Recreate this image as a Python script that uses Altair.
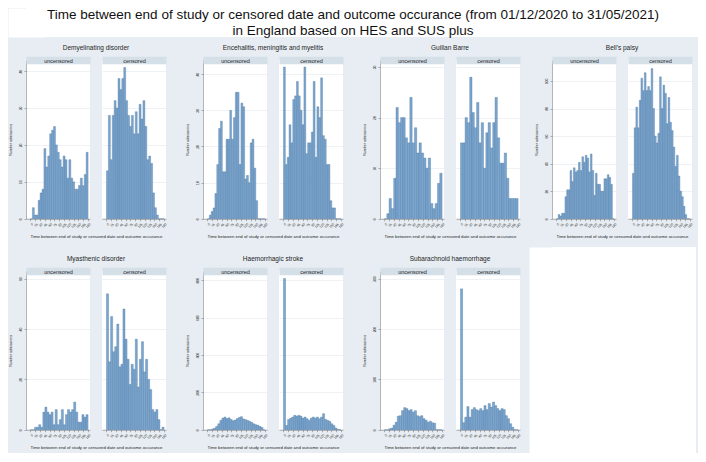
import altair as alt
import pandas as pd

# ---------------- data ----------------
TITLE_LINE1 = "Time between end of study or censored date and outcome occurance (from 01/12/2020 to 31/05/2021)"
TITLE_LINE2 = "in England based on HES and SUS plus"
X_TITLE = "Time between end of study or censored date and outcome occurance"
Y_TITLE = "Number admissions"
STATUSES = ["uncensored", "censored"]
X_TICKS = [0, 15, 30, 45, 60, 75, 90, 105, 120, 135, 150, 165, 180]
X_MAX = 180

DISEASES = [
    "Demyelinating disorder",
    "Encehalitis, meningitis and myelitis",
    "Guillan Barre",
    "Bell's palsy",
    "Myasthenic disorder",
    "Haemorrhagic stroke",
    "Subarachnoid haemorrhage",
]

demy_unc = [0, 3, 1, 1, 5, 7, 8, 19, 14, 17, 23, 24, 25, 20, 18, 16, 14, 17, 16, 11, 16, 11, 10, 8, 8, 9, 11, 9, 12, 18]
demy_cen = [13, 28, 16, 28, 32, 30, 38, 35, 38, 41, 32, 28, 25, 28, 23, 29, 23, 31, 27, 32, 25, 16, 17, 15, 7, 3, 1, 0, 0, 0]
ence_unc = [0, 1, 2, 3, 7, 15, 25, 27, 13, 13, 22, 22, 30, 22, 28, 35, 35, 15, 32, 31, 11, 12, 10, 21, 22, 14, 5, 0, 0, 0, 0]
ence_cen = [42, 15, 17, 26, 21, 33, 34, 38, 34, 30, 26, 42, 18, 21, 21, 24, 38, 17, 31, 28, 39, 23, 22, 15, 15, 5, 3, 3, 0, 0, 0]
guil_unc = [0, 1, 4, 2, 8, 22, 19, 20, 20, 16, 15, 24, 15, 18, 13, 15, 13, 12, 10, 12, 3, 2, 3, 7, 9]
guil_cen = [15, 15, 20, 19, 28, 21, 18, 23, 15, 19, 10, 17, 19, 14, 19, 24, 16, 11, 11, 13, 8, 4, 4, 4, 4]
bell_unc = [0, 3, 2, 4, 4, 16, 21, 21, 35, 27, 37, 34, 35, 41, 35, 45, 41, 46, 44, 34, 47, 35, 17, 33, 25, 25, 20, 20, 29, 29, 32, 30, 25, 0]
bell_cen = [33, 66, 81, 66, 86, 102, 93, 106, 93, 96, 93, 109, 80, 60, 55, 62, 103, 80, 97, 91, 69, 88, 70, 64, 52, 38, 46, 31, 20, 16, 9, 3, 0, 0]
myas_unc = [0, 0, 1, 1, 2, 1, 7, 9, 7, 6, 7, 2, 8, 2, 4, 8, 2, 6, 8, 7, 8, 11, 7, 3, 3, 6, 5, 6]
myas_cen = [54, 27, 45, 31, 33, 42, 25, 26, 48, 36, 28, 18, 26, 24, 36, 17, 28, 35, 23, 28, 20, 16, 8, 7, 8, 4, 0, 1]
haem_unc = [0, 0, 4, 9, 18, 32, 50, 62, 68, 60, 64, 55, 48, 52, 60, 66, 70, 58, 54, 50, 45, 40, 32, 27, 24, 18, 12, 0]
haem_cen = [810, 23, 55, 62, 68, 77, 73, 77, 73, 62, 68, 59, 50, 62, 68, 62, 68, 59, 68, 86, 55, 50, 45, 32, 23, 9, 2, 0]
suba_unc = [0, 0, 2, 3, 9, 15, 27, 28, 38, 44, 42, 38, 40, 35, 38, 28, 26, 28, 22, 19, 15, 17, 14, 13, 0, 0, 0]
suba_cen = [280, 14, 25, 46, 25, 40, 44, 40, 38, 42, 38, 48, 40, 52, 45, 55, 48, 42, 38, 42, 40, 28, 22, 12, 5, 0, 0]

UNCENSORED = [demy_unc, ence_unc, guil_unc, bell_unc, myas_unc, haem_unc, suba_unc]
CENSORED = [demy_cen, ence_cen, guil_cen, bell_cen, myas_cen, haem_cen, suba_cen]
Y_TICKS = [
    [0, 10, 20, 30, 40],
    [0, 10, 20, 30, 40],
    [0, 10, 20, 30],
    [0, 20, 40, 60, 80, 100],
    [0, 20, 40, 60],
    [0, 200, 400, 600, 800],
    [0, 100, 200, 300],
]
Y_TOP = [42.0, 42.9, 30.65, 112.5, 61.6, 830, 308]

# ---------------- style ----------------
FONT = "Liberation Sans"
BG = "#e7edf2"
STRIP = "#d4dfe8"
BAR_FILL = "#7ba6d0"
BAR_STROKE = "#46719b"
GRID = "#e4eaef"
AXIS = "#6a6a6a"
TEXT = "#1e1e1e"

W = 690
X1 = 18          # left overhang of the first panel's y axis
PW = 64
GAP = 12
PANEL_W = 2 * PW + GAP
PH_VIS = 155
SH = 7.5
PH = PH_VIS + SH / 2
X_DOMAIN = [-14, 186]
SX = 18
TITLE_H = 29


def subplot(k, status, first):
    vals = UNCENSORED[k] if status == "uncensored" else CENSORED[k]
    n = len(vals)
    w = X_MAX / n
    df = pd.DataFrame({
        "start": [i * w for i in range(n)],
        "end": [(i + 1) * w for i in range(n)],
        "count": vals,
    })
    xscale = alt.Scale(domain=X_DOMAIN, nice=False, zero=False)
    yscale = alt.Scale(domain=[0, Y_TOP[k] * PH / PH_VIS], nice=False)

    xaxis_kw = dict(values=X_TICKS, labelAngle=-45, labelFontSize=3.2, labelColor=TEXT,
                    labelPadding=1, tickSize=2, tickColor=AXIS, tickWidth=0.5,
                    domainColor=AXIS, domainWidth=0.5, grid=False,
                    labelFlush=False, labelOverlap=False)
    if first:
        xaxis_kw.update(title=X_TITLE, titleX=PANEL_W / 2, titleY=18, titleFontSize=4.3,
                        titleFontWeight="normal", titleColor=TEXT, titleAlign="center",
                        titleBaseline="middle")
    else:
        xaxis_kw.update(title=None)

    if first:
        yaxis = alt.Axis(values=Y_TICKS[k], labelAngle=-90, labelAlign="center",
                         labelBaseline="bottom", labelFontSize=3.3, labelColor=TEXT,
                         labelPadding=2, tickSize=2, tickColor=AXIS, tickWidth=0.5,
                         domainColor=AXIS, domainWidth=0.5, grid=True, gridColor=GRID,
                         gridWidth=0.6, title=Y_TITLE, titleFontSize=3.6,
                         titleFontWeight="normal", titleColor=TEXT, titlePadding=6)
    else:
        yaxis = alt.Axis(values=Y_TICKS[k], labels=False, ticks=False, domain=False,
                         grid=True, gridColor=GRID, gridWidth=0.6, title=None)

    bars = alt.Chart(df).mark_bar(fill=BAR_FILL, stroke=BAR_STROKE, strokeWidth=0.35).encode(
        x=alt.X("start:Q", scale=xscale, axis=alt.Axis(**xaxis_kw)),
        x2="end:Q",
        y=alt.Y("count:Q", scale=yscale, axis=yaxis),
        y2=alt.datum(0),
    )
    strip = alt.Chart(df).mark_point(opacity=0).encode(
        x=alt.X("start:Q", scale=xscale, axis=alt.Axis(
            orient="top", domain=True, domainColor=STRIP, domainWidth=SH, domainCap="butt",
            ticks=False, labels=False, grid=False, title=status, titleFontSize=5.5,
            titleFontWeight="normal", titleColor=TEXT, titleX=PW / 2, titleY=0,
            titleAlign="center", titleBaseline="middle", zindex=2)),
    )
    props = dict(width=PW, height=PH, view=alt.ViewBackground(fill="white", stroke="transparent"))
    if first:
        props["title"] = alt.Title(DISEASES[k], anchor="middle", frame="group",
                                   dx=PANEL_W / 2 - PW / 2, fontSize=6.5, fontWeight="normal",
                                   font=FONT, color=TEXT, offset=7)
    return alt.layer(bars, strip).resolve_axis(x="independent").properties(**props)


def panel(k):
    return alt.hconcat(subplot(k, "uncensored", True),
                       subplot(k, "censored", False),
                       spacing=GAP, bounds="flush")


def white_block(w, h, left_ext):
    # white view; a thick white left domain line extends it to the left
    return alt.Chart(pd.DataFrame({"v": [0]})).mark_point(opacity=0).encode(
        y=alt.Y("v:Q", axis=alt.Axis(domain=True, domainColor="white", domainWidth=2 * left_ext,
                                     domainCap="butt", labels=False, ticks=False, grid=False,
                                     title=None)),
    ).properties(width=w, height=h, view=alt.ViewBackground(fill="white", stroke="transparent"))


def title_view():
    l1 = alt.Chart(pd.DataFrame({"t": [TITLE_LINE1]})).mark_text(
        font=FONT, fontSize=13.5, color="#111", baseline="middle", dy=-7.5, dx=-X1 / 2
    ).encode(text="t:N")
    l2 = alt.Chart(pd.DataFrame({"t": [TITLE_LINE2]})).mark_text(
        font=FONT, fontSize=13.5, color="#111", baseline="middle", dy=8, dx=-X1 / 2
    ).encode(text="t:N")
    return alt.layer(white_block(W - X1, TITLE_H, X1), l1, l2).properties(
        width=W - X1, height=TITLE_H, view=alt.ViewBackground(fill="white", stroke="transparent"))


cols123 = alt.hconcat(
    *[alt.vconcat(panel(k), panel(k + 4), spacing=15) for k in range(3)],
    spacing=SX,
)
col4 = alt.vconcat(panel(3), white_block(W - X1 - 3 * 176, 206, 23), spacing=7)
grid = alt.hconcat(cols123, col4, spacing=13)

chart = alt.vconcat(
    title_view(),
    grid,
    spacing=7,
).properties(background=BG, padding=0).configure_view(strokeWidth=0).configure_axis(
    labelFont=FONT, titleFont=FONT
).configure_title(font=FONT)

chart.save("out.html", embed_options={"renderer": "svg", "actions": False})
